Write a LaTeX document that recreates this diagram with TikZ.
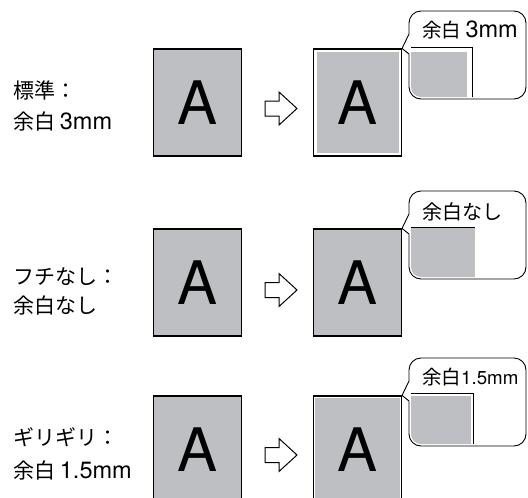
\documentclass[tikz,border=0pt]{standalone}
\usepackage{fontspec}
\setmainfont{TeX Gyre Heros}
\newfontfamily\jp{Noto Sans CJK JP}
\newfontfamily\heros[Scale=1.12]{TeX Gyre Heros}
\usetikzlibrary{positioning}
\definecolor{paper}{RGB}{190,191,195}
\tikzstyle{page} = [rectangle, minimum width=88pt, minimum height=107pt, inner sep=0pt, draw=black, line width=1.1pt, fill=paper, font=\fontsize{60}{60}\selectfont]
\tikzstyle{printed} = [page, fill=white]
\tikzstyle{area} = [rectangle, inner sep=0pt, fill=paper, font=\fontsize{60}{60}\selectfont]
\tikzstyle{modetext} = [anchor=base west, inner sep=0pt, font=\fontsize{21}{21}\selectfont\jp]
\tikzstyle{tagtext} = [anchor=base west, inner sep=0pt, font=\fontsize{19.5}{19.5}\selectfont\jp]
\tikzstyle{bubble} = [draw=black, line width=0.9pt, fill=white, rounded corners=12pt]
\tikzstyle{hollow} = [draw=black, line width=1pt, fill=white, line join=miter]
\tikzstyle{rim} = [draw=black, line width=1pt]

\begin{document}
\begin{tikzpicture}[x=1pt, y=-1pt]
	\useasboundingbox (0,0) rectangle (528,498);
	\clip (0,0) rectangle (528,498);

	% left column: print mode
	\node[modetext] (m1a) at (13,98) {標準：};
	\node[modetext] (m1b) at (13,129.5) {余白 {\heros 3mm}};
	\node[modetext] (m2a) at (13,284) {フチなし：};
	\node[modetext] (m2b) at (13,313) {余白なし};
	\node[modetext] (m3a) at (13,445) {ギリギリ：};
	\node[modetext] (m3b) at (13,478) {余白 {\heros 1.5mm}};

	% originals
	\node(p1) at (197.5,102.5) [page] {A};
	\node(p2) at (197.5,282.5) [page] {A};
	\node(p3) at (197.5,449.5) [page] {A};

	% prints
	\node(r1) at (357.5,102.5) [printed] {};
	\node(g1) at (r1.center) [area, minimum width=82pt, minimum height=101pt] {A};
	\node(r2) at (357.5,282.5) [page] {A};
	\node(r3) at (357.5,449.5) [printed] {};
	\node(g3) at (r3.center) [area, minimum width=84.6pt, minimum height=103.6pt] {A};

	% hollow arrows
	\coordinate (a1) at (281,108.5);
	\coordinate (a2) at (281,290);
	\coordinate (a3) at (281,455);
	\draw[hollow] (a1) ++(-16,-7.5) -- ++(14,0) -- ++(0,-9) -- ++(18,16.5) -- ++(-18,16.5) -- ++(0,-9) -- ++(-14,0) -- cycle;
	\draw[hollow] (a2) ++(-16,-7.5) -- ++(14,0) -- ++(0,-9) -- ++(18,16.5) -- ++(-18,16.5) -- ++(0,-9) -- ++(-14,0) -- cycle;
	\draw[hollow] (a3) ++(-16,-7.5) -- ++(14,0) -- ++(0,-9) -- ++(18,16.5) -- ++(-18,16.5) -- ++(0,-9) -- ++(-14,0) -- cycle;

	% callout 1: 3mm
	\draw[bubble] (409,11) rectangle (526,99);
	\begin{scope}
		\clip[rounded corners=10pt] (411,13) rectangle (524,97);
		\fill[paper] (405,52) rectangle (467,105);
		\draw[rim] (405,47) -- (472,47) -- (472,105);
	\end{scope}
	\fill[white] (410,34) -- (408,34) -- (r1.north east) -- (408,54) -- (410,54) -- cycle;
	\draw[line width=0.9pt] (409,34) -- (r1.north east) -- (409,54);
	\node[tagtext] (n1) at (422,37) {余白 {\heros\fontsize{21}{21}\selectfont 3mm}};

	% callout 2: none
	\draw[bubble] (409,191) rectangle (526,279);
	\begin{scope}
		\clip[rounded corners=10pt] (411,193) rectangle (524,277);
		\fill[paper] (405,227) rectangle (475,285);
		\draw[rim] (405,227) -- (475,227);
	\end{scope}
	\fill[white] (410,214) -- (408,214) -- (r2.north east) -- (408,234) -- (410,234) -- cycle;
	\draw[line width=0.9pt] (409,214) -- (r2.north east) -- (409,234);
	\node[tagtext, font=\fontsize{20}{20}\selectfont\jp] (n2) at (422,219) {余白なし};

	% callout 3: 1.5mm
	\draw[bubble] (409,358) rectangle (526,446);
	\begin{scope}
		\clip[rounded corners=10pt] (411,360) rectangle (524,444);
		\fill[paper] (405,395.5) rectangle (471,450);
		\draw[rim] (405,393) -- (473,393) -- (473,450);
	\end{scope}
	\fill[white] (410,381) -- (408,381) -- (r3.north east) -- (408,401) -- (410,401) -- cycle;
	\draw[line width=0.9pt] (409,381) -- (r3.north east) -- (409,401);
	\node[tagtext] (n3) at (422,384) {余白{\heros\fontsize{16.7}{17}\selectfont 1.5mm}};
\end{tikzpicture}
\end{document}
